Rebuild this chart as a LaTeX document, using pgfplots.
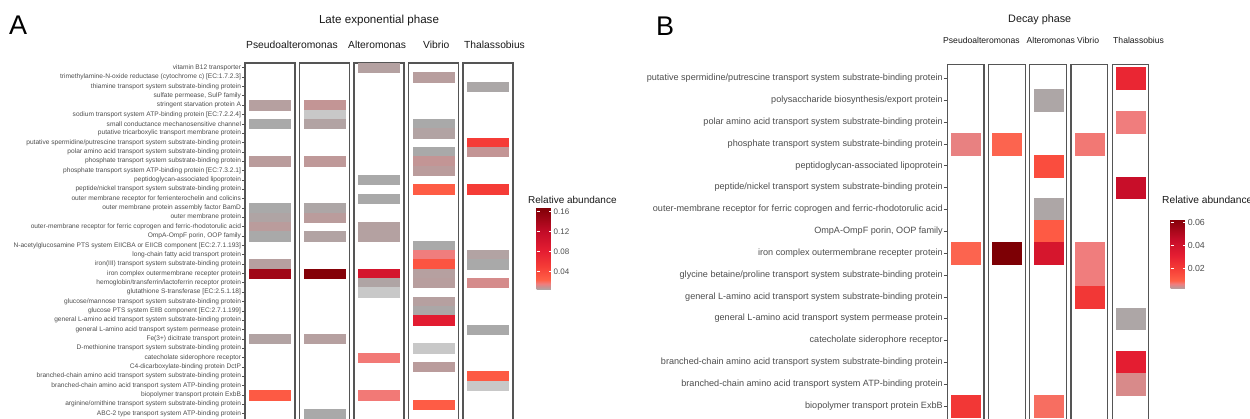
\documentclass[border=0pt]{standalone}
\usepackage{pgfplots}
\pgfplotsset{compat=1.18}
\usepackage{pgfplotstable}
\usepackage{fontspec}
\setmainfont{Liberation Sans}
\definecolor{axtext}{HTML}{4D4D4D}
\definecolor{frame}{HTML}{555555}
\tikzset{lab/.style={inner sep=0pt}}

\pgfplotsset{
  colormap={cmA}{rgb255(0pt)=(211,211,211) rgb255(30pt)=(169,169,169) rgb255(60pt)=(182,160,160) rgb255(100pt)=(200,146,146) rgb255(160pt)=(240,125,125) rgb255(240pt)=(255,95,70) rgb255(500pt)=(245,60,55) rgb255(800pt)=(230,30,50) rgb255(1200pt)=(195,12,40) rgb255(1700pt)=(125,0,5)},
  colormap={cmAbar}{rgb255(34pt)=(171,168,168) rgb255(60pt)=(182,160,160) rgb255(100pt)=(200,146,146) rgb255(160pt)=(240,125,125) rgb255(240pt)=(255,95,70) rgb255(500pt)=(245,60,55) rgb255(800pt)=(230,30,50) rgb255(1200pt)=(195,12,40) rgb255(1680pt)=(128,0,6)},
  colormap={cmB}{rgb255(0pt)=(211,211,211) rgb255(12pt)=(169,169,169) rgb255(24pt)=(182,160,160) rgb255(40pt)=(200,146,146) rgb255(65pt)=(240,125,125) rgb255(95pt)=(255,95,70) rgb255(200pt)=(245,60,55) rgb255(310pt)=(230,30,50) rgb255(460pt)=(195,12,40) rgb255(650pt)=(125,0,5)},
  colormap={cmBbar}{rgb255(20pt)=(178,163,163) rgb255(24pt)=(182,160,160) rgb255(40pt)=(200,146,146) rgb255(65pt)=(240,125,125) rgb255(95pt)=(255,95,70) rgb255(200pt)=(245,60,55) rgb255(310pt)=(230,30,50) rgb255(460pt)=(195,12,40) rgb255(632pt)=(132,1,8)},
  facet/.style={
    scale only axis, anchor=north west,
    xmin=0, xmax=1, y dir=reverse,
    xtick=\empty, ytick=\empty,
    axis line style={draw=frame, line width=1.1pt},
  },
  facetA/.style={facet, width=50pt, height=369.3pt, ymin=0.5, ymax=40,
    colormap name=cmA, point meta min=0, point meta max=0.17},
  facetB/.style={facet, width=36.3pt, height=355.7pt, ymin=0.36, ymax=16.64,
    colormap name=cmB, point meta min=0, point meta max=0.065},
  tilesA/.style={scatter, only marks, point meta=explicit, mark=square*, mark size=4.675pt,
    scatter/use mapped color={draw=mapped color, fill=mapped color},
    mark options={xscale=4.385, line width=0.1pt}},
  tilesB/.style={scatter, only marks, point meta=explicit, mark=square*, mark size=10.925pt,
    scatter/use mapped color={draw=mapped color, fill=mapped color},
    mark options={xscale=1.327, line width=0.1pt}},
  cbar/.style={
    colorbar style={at={(parent axis.north west)}, anchor=north west,
      width=16pt, scaled y ticks=false,
      axis line style={draw=none},
      ytick pos=both, yticklabel pos=right,
      tick align=inside, major tick length=3.2pt,
      major tick style={draw=white, line width=0.7pt},
      yticklabel style={text=axtext, inner sep=1pt,
        /pgf/number format/fixed, /pgf/number format/fixed zerofill,
        /pgf/number format/precision=2, /pgf/number format/assume math mode=true},
    }},
}

% Panel A: late exponential phase (row = category index from top, val = relative abundance)
\pgfplotstableread{
row val
5 0.006
7 0.003
11 0.007
16 0.003
17 0.0045
18 0.007
19 0.003
22 0.006
23 0.145
30 0.005
36 0.028
}\APa
\pgfplotstableread{
row val
5 0.009
6 0.0008
7 0.005
11 0.008
16 0.004
17 0.007
19 0.005
23 0.165
30 0.006
38 0.003
}\APb
\pgfplotstableread{
row val
1 0.0055
13 0.003
15 0.003
18 0.0055
19 0.0055
23 0.1
24 0.0045
25 0.0008
32 0.017
36 0.017
}\AAl
\pgfplotstableread{
row val
2 0.0065
7 0.003
8 0.005
10 0.003
11 0.009
12 0.007
14 0.026
20 0.003
21 0.016
22 0.032
23 0.006
24 0.0065
26 0.006
27 0.0035
28 0.085
31 0.0008
33 0.007
37 0.026
}\AVi
\pgfplotstableread{
row val
3 0.0035
9 0.05
10 0.009
14 0.05
21 0.005
22 0.003
24 0.012
29 0.003
34 0.028
35 0.0008
}\ATh

% Panel B: decay phase
\pgfplotstableread{
row val
4 0.006
9 0.009
16 0.022
}\BPa
\pgfplotstableread{
row val
4 0.009
9 0.065
}\BPb
\pgfplotstableread{
row val
2 0.0016
5 0.015
7 0.0016
8 0.011
9 0.038
16 0.008
}\BAl
\pgfplotstableread{
row val
4 0.007
9 0.0065
10 0.0065
11 0.022
}\BVi
\pgfplotstableread{
row val
1 0.028
3 0.0065
6 0.044
12 0.0016
14 0.032
15 0.005
}\BTh

\begin{document}
\begin{tikzpicture}[x=1pt,y=1pt]

% ---------------- Panel A ----------------
\begin{axis}[facetA, at={(245pt,356pt)},
  ytick={1,...,38}, ytick pos=left, tick align=outside, major tick length=3pt,
  major tick style={draw=axtext, line width=0.5pt},
  yticklabel style={font=\fontsize{6.6}{7}\selectfont, text=axtext, inner sep=0.8pt},
  yticklabels={
    {vitamin B12 transporter},
    {trimethylamine-N-oxide reductase (cytochrome c) [EC:1.7.2.3]},
    {thiamine transport system substrate-binding protein},
    {sulfate permease, SulP family},
    {stringent starvation protein A},
    {sodium transport system ATP-binding protein [EC:7.2.2.4]},
    {small conductance mechanosensitive channel},
    {putative tricarboxylic transport membrane protein},
    {putative spermidine/putrescine transport system substrate-binding protein},
    {polar amino acid transport system substrate-binding protein},
    {phosphate transport system substrate-binding protein},
    {phosphate transport system ATP-binding protein [EC:7.3.2.1]},
    {peptidoglycan-associated lipoprotein},
    {peptide/nickel transport system substrate-binding protein},
    {outer membrane receptor for ferrienterochelin and colicins},
    {outer membrane protein assembly factor BamD},
    {outer membrane protein},
    {outer-membrane receptor for ferric coprogen and ferric-rhodotorulic acid},
    {OmpA-OmpF porin, OOP family},
    {N-acetylglucosamine PTS system EIICBA or EIICB component [EC:2.7.1.193]},
    {long-chain fatty acid transport protein},
    {iron(III) transport system substrate-binding protein},
    {iron complex outermembrane recepter protein},
    {hemoglobin/transferrin/lactoferrin receptor protein},
    {glutathione S-transferase [EC:2.5.1.18]},
    {glucose/mannose transport system substrate-binding protein},
    {glucose PTS system EIIB component [EC:2.7.1.199]},
    {general L-amino acid transport system substrate-binding protein},
    {general L-amino acid transport system permease protein},
    {Fe(3+) dicitrate transport protein},
    {D-methionine transport system substrate-binding protein},
    {catecholate siderophore receptor},
    {C4-dicarboxylate-binding protein DctP},
    {branched-chain amino acid transport system substrate-binding protein},
    {branched-chain amino acid transport system ATP-binding protein},
    {biopolymer transport protein ExbB},
    {arginine/ornithine transport system substrate-binding protein},
    {ABC-2 type transport system ATP-binding protein}}]
\addplot[tilesA] table[x expr=0.5, y=row, meta=val] {\APa};
\end{axis}
\begin{axis}[facetA, at={(299.5pt,356pt)}]
\addplot[tilesA] table[x expr=0.5, y=row, meta=val] {\APb};
\end{axis}
\begin{axis}[facetA, at={(354pt,356pt)}]
\addplot[tilesA] table[x expr=0.5, y=row, meta=val] {\AAl};
\end{axis}
\begin{axis}[facetA, at={(408.5pt,356pt)}]
\addplot[tilesA] table[x expr=0.5, y=row, meta=val] {\AVi};
\end{axis}
\begin{axis}[facetA, at={(463pt,356pt)}]
\addplot[tilesA] table[x expr=0.5, y=row, meta=val] {\ATh};
\end{axis}

% colour bar A
\begin{axis}[at={(528pt,211.3pt)}, anchor=north west, scale only axis,
  width=16pt, height=82.3pt, hide axis, xmin=0, xmax=1, ymin=0, ymax=1,
  colormap name=cmAbar, point meta min=0.0034, point meta max=0.168,
  colorbar, cbar,
  colorbar style={height=82.3pt, ytick={0.04,0.08,0.12,0.16},
    yticklabel style={font=\fontsize{8}{9}\selectfont}}]
\addplot[draw=none] coordinates {(0.5,0.5)};
\end{axis}

\node[lab, anchor=base west, font=\fontsize{27}{30}\selectfont] at (9pt,384pt) {A};
\node[lab, anchor=base, font=\fontsize{11.6}{13}\selectfont, text=black!90] at (379pt,395.5pt) {Late exponential phase};
\node[lab, anchor=base west, font=\fontsize{10.3}{12}\selectfont, text=black!90] at (246pt,370pt) {Pseudoalteromonas};
\node[lab, anchor=base west, font=\fontsize{10.3}{12}\selectfont, text=black!90] at (348pt,370pt) {Alteromonas};
\node[lab, anchor=base west, font=\fontsize{10.3}{12}\selectfont, text=black!90] at (423pt,370pt) {Vibrio};
\node[lab, anchor=base west, font=\fontsize{10.3}{12}\selectfont, text=black!90] at (464pt,370pt) {Thalassobius};
\node[lab, anchor=base west, font=\fontsize{10}{12}\selectfont, text=black!90] at (528pt,215.5pt) {Relative abundance};

% ---------------- Panel B ----------------
\begin{axis}[facetB, at={(947.7pt,354.7pt)},
  ytick={1,...,16}, ytick pos=left, tick align=outside, major tick length=4pt,
  major tick style={draw=axtext, line width=0.5pt},
  yticklabel style={font=\fontsize{9.1}{10}\selectfont, text=axtext, inner sep=0.8pt},
  yticklabels={
    {putative spermidine/putrescine transport system substrate-binding protein},
    {polysaccharide biosynthesis/export protein},
    {polar amino acid transport system substrate-binding protein},
    {phosphate transport system substrate-binding protein},
    {peptidoglycan-associated lipoprotein},
    {peptide/nickel transport system substrate-binding protein},
    {outer-membrane receptor for ferric coprogen and ferric-rhodotorulic acid},
    {OmpA-OmpF porin, OOP family},
    {iron complex outermembrane recepter protein},
    {glycine betaine/proline transport system substrate-binding protein},
    {general L-amino acid transport system substrate-binding protein},
    {general L-amino acid transport system permease protein},
    {catecholate siderophore receptor},
    {branched-chain amino acid transport system substrate-binding protein},
    {branched-chain amino acid transport system ATP-binding protein},
    {biopolymer transport protein ExbB}}]
\addplot[tilesB] table[x expr=0.5, y=row, meta=val] {\BPa};
\end{axis}
\begin{axis}[facetB, at={(988.8pt,354.7pt)}]
\addplot[tilesB] table[x expr=0.5, y=row, meta=val] {\BPb};
\end{axis}
\begin{axis}[facetB, at={(1029.9pt,354.7pt)}]
\addplot[tilesB] table[x expr=0.5, y=row, meta=val] {\BAl};
\end{axis}
\begin{axis}[facetB, at={(1071pt,354.7pt)}]
\addplot[tilesB] table[x expr=0.5, y=row, meta=val] {\BVi};
\end{axis}
\begin{axis}[facetB, at={(1112.1pt,354.7pt)}]
\addplot[tilesB] table[x expr=0.5, y=row, meta=val] {\BTh};
\end{axis}

% colour bar B
\begin{axis}[at={(1162pt,200pt)}, anchor=north west, scale only axis,
  width=16pt, height=70pt, hide axis, xmin=0, xmax=1, ymin=0, ymax=1,
  colormap name=cmBbar, point meta min=0.002, point meta max=0.0632,
  colorbar, cbar,
  colorbar style={height=70pt, ytick={0.02,0.04,0.06},
    yticklabel style={font=\fontsize{8.8}{10}\selectfont}}]
\addplot[draw=none] coordinates {(0.5,0.5)};
\end{axis}

\node[lab, anchor=base west, font=\fontsize{27}{30}\selectfont] at (656pt,383pt) {B};
\node[lab, anchor=base west, font=\fontsize{10.8}{12}\selectfont, text=black!90] at (1008pt,396.5pt) {Decay phase};
\node[lab, anchor=base west, font=\fontsize{8.6}{10}\selectfont, text=black!90] at (943pt,375pt) {Pseudoalteromonas};
\node[lab, anchor=base west, font=\fontsize{8.6}{10}\selectfont, text=black!90] at (1026.5pt,375pt) {Alteromonas};
\node[lab, anchor=base west, font=\fontsize{8.6}{10}\selectfont, text=black!90] at (1077pt,375pt) {Vibrio};
\node[lab, anchor=base west, font=\fontsize{8.6}{10}\selectfont, text=black!90] at (1113pt,375pt) {Thalassobius};
\node[lab, anchor=base west, font=\fontsize{10.2}{12}\selectfont, text=black!90] at (1162pt,215.5pt) {Relative abundance};

\pgfresetboundingbox
\useasboundingbox (0pt,0pt) rectangle (1250pt,419pt);
\end{tikzpicture}
\end{document}
